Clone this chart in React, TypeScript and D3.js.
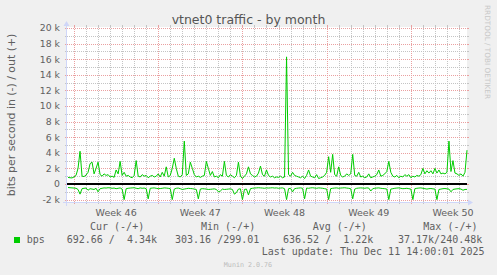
import React from 'react';
import * as d3 from 'd3';

// ---------- data ----------
const FIRST_SAMPLE = Date.UTC(2025, 10, 9, 12, 0); // 4-hour RRD samples
const STEP_HOURS = 4;

// out (+) traffic, bits per second
const outBps = [
  850, 800, 780, 900, 1100, 2000, 4200, 1000, 950, 1150,
  1500, 2600, 2800, 1300, 2000, 2800, 1200, 1000, 1300, 1100,
  1200, 900, 1000, 850, 1800, 1300, 2900, 1100, 1500, 1000,
  1100, 900, 800, 1100, 3000, 1000, 900, 1200, 1000, 1100,
  800, 1000, 1100, 900, 1000, 1300, 900, 1500, 1000, 2200,
  900, 1100, 2000, 3300, 2000, 1000, 900, 1200, 5500, 1100,
  1300, 2800, 2000, 1200, 900, 1000, 850, 1000, 1100, 2900,
  2000, 1100, 1600, 900, 1000, 800, 1200, 1000, 2900, 1100,
  900, 1200, 1000, 800, 1100, 2800, 1000, 700, 1000, 1300,
  2200, 1300, 1100, 900, 1000, 1400, 2300, 1200, 1000, 1800,
  1100, 900, 1000, 800, 900, 850, 1000, 800, 900, 16300,
  1200, 1000, 1500, 1100, 1000, 900, 800, 1000, 700, 1100,
  1800, 1000, 900, 800, 1200, 700, 800, 900, 1100, 1500,
  3500, 1500, 3800, 1200, 1000, 2200, 1100, 900, 1000, 1300,
  1100, 1300, 3800, 1100, 1000, 1500, 900, 1000, 800, 900,
  1300, 800, 900, 1000, 1200, 1800, 1000, 1100, 1300, 1600,
  2900, 1500, 1000, 900, 1100, 800, 1000, 900, 1200, 1000,
  1200, 800, 1000, 900, 1100, 1000, 1200, 2000, 1300, 1700,
  1400, 1700, 1300, 2000, 1400, 1800, 1300, 1400, 1300, 1500,
  5500, 1600, 3000, 1400, 1300, 1100, 1300, 1000, 1500, 4340,
];

// in (-) traffic, bits per second (drawn below zero)
const inBps = [
  450, 480, 500, 520, 550, 700, 1300, 600, 550, 520,
  800, 600, 650, 700, 550, 1000, 600, 550, 500, 520,
  480, 500, 550, 520, 600, 550, 500, 650, 2000, 600,
  550, 520, 500, 480, 550, 600, 500, 550, 520, 600,
  1900, 550, 520, 500, 550, 600, 580, 550, 500, 520,
  550, 600, 2000, 650, 550, 520, 600, 700, 650, 600,
  550, 580, 600, 650, 700, 1900, 650, 600, 620, 650,
  700, 680, 650, 620, 700, 1000, 900, 650, 700, 680,
  650, 620, 700, 1300, 1100, 650, 620, 2000, 700, 650,
  1400, 600, 550, 520, 500, 480, 500, 520, 550, 500,
  520, 500, 480, 520, 500, 550, 520, 500, 600, 2000,
  600, 550, 1000, 600, 550, 520, 500, 550, 1900, 520,
  550, 500, 480, 520, 550, 500, 520, 550, 600, 650,
  2000, 600, 550, 520, 500, 550, 520, 500, 480, 520,
  550, 600, 1900, 650, 550, 520, 500, 520, 550, 500,
  520, 900, 600, 550, 520, 500, 550, 580, 600, 650,
  2000, 650, 600, 550, 520, 500, 550, 600, 580, 550,
  600, 650, 2000, 600, 550, 520, 500, 550, 600, 650,
  600, 580, 620, 650, 2000, 700, 650, 600, 580, 620,
  650, 1000, 700, 650, 620, 600, 650, 800, 700, 693,
];

const yTickValues = [-2000, 0, 2000, 4000, 6000, 8000, 10000, 12000, 14000, 16000, 18000, 20000];
const yMinorValues = [-1000, 1000, 3000, 5000, 7000, 9000, 11000, 13000, 15000, 17000, 19000];
const weekStarts = [
  Date.UTC(2025, 10, 10), Date.UTC(2025, 10, 17), Date.UTC(2025, 10, 24),
  Date.UTC(2025, 11, 1), Date.UTC(2025, 11, 8),
];
const weekLabels = ['Week 46', 'Week 47', 'Week 48', 'Week 49', 'Week 50'];

const titleText = 'vtnet0 traffic - by month';
const yAxisTitle = 'bits per second in (-) / out (+)';
const seriesName = 'bps';
const legendHeaders = ['Cur (-/+)', 'Min (-/+)', 'Avg (-/+)', 'Max (-/+)'];
const legendValues = ['692.66 /  4.34k', '303.16 /299.01', '636.52 /  1.22k', '37.17k/240.48k'];
const lastUpdate = 'Last update: Thu Dec 11 14:00:01 2025';
const watermark = 'Munin 2.0.76';
const sideText = 'RRDTOOL / TOBI OETIKER';

// ---------- layout ----------
const W = 497;
const H = 275;
const X0 = 67, X1 = 467, YTOP = 27, YBOT = 202;
const DOMAIN_START = Date.UTC(2025, 10, 9, 10, 0);
const DOMAIN_END = Date.UTC(2025, 11, 12, 16, 0);
const headerX = [90, 201, 312.7, 423.3];
const valueX = [66.7, 175, 283, 398];

const sans = 'DejaVu Sans, Verdana, sans-serif';
const mono = 'DejaVu Sans Mono, monospace';
const FONT = '#606060';
const GREEN = '#00cc00';
const MINOR = '#c4c4c4';
const MAJOR = '#eaa0a0';
const AXIS = '#cfd6f8';

export default function App() {
  const x = d3.scaleUtc().domain([DOMAIN_START, DOMAIN_END]).range([X0, X1]);
  const y = d3.scaleLinear().domain([-2307.7, 20128.2]).range([YBOT, YTOP]);

  const times = outBps.map((_, i) => new Date(FIRST_SAMPLE + i * STEP_HOURS * 3600e3));
  const line = d3
    .line<number>()
    .x((_, i) => x(times[i]))
    .y((d) => y(d));

  const days = d3.utcDay.range(new Date(DOMAIN_START), new Date(DOMAIN_END));
  const mondaySet = new Set(weekStarts);
  const minorDays = days.filter((d) => !mondaySet.has(d.getTime()));

  const py = (v: number) => Math.round(y(v)) + 0.5;
  const px = (t: number | Date) => Math.round(x(t as any)) + 0.5;

  return (
    <svg
      width={W}
      height={H}
      style={{ position: 'absolute', left: 0, top: 0, display: 'block' }}
      xmlns="http://www.w3.org/2000/svg"
    >
      <rect x={0} y={0} width={W} height={H} fill="#f0f0f0" />
      <rect x={X0} y={YTOP} width={X1 - X0} height={YBOT - YTOP} fill="#ffffff" />

      {/* minor horizontal grid */}
      {yMinorValues.map((v) => (
        <g key={'hm' + v}>
          <line x1={X0} x2={X1} y1={py(v)} y2={py(v)} stroke={MINOR} strokeDasharray="1,1" />
          <line x1={X0 - 2} x2={X0} y1={py(v)} y2={py(v)} stroke={MINOR} />
          <line x1={X1} x2={X1 + 2} y1={py(v)} y2={py(v)} stroke={MINOR} />
        </g>
      ))}
      {/* minor vertical grid (days) */}
      {minorDays.map((d) => (
        <g key={'vm' + d.getTime()}>
          <line x1={px(d)} x2={px(d)} y1={YTOP} y2={YBOT} stroke={MINOR} strokeDasharray="1,1" />
          <line x1={px(d)} x2={px(d)} y1={YBOT} y2={YBOT + 2} stroke={MINOR} />
          <line x1={px(d)} x2={px(d)} y1={YTOP - 2} y2={YTOP} stroke={MINOR} />
        </g>
      ))}
      {/* major horizontal grid */}
      {yTickValues.map((v) => (
        <g key={'hM' + v}>
          <line x1={X0} x2={X1} y1={py(v)} y2={py(v)} stroke={MAJOR} strokeDasharray="1,1" />
          <line x1={X0 - 2} x2={X0} y1={py(v)} y2={py(v)} stroke={MAJOR} />
          <line x1={X1} x2={X1 + 2} y1={py(v)} y2={py(v)} stroke={MAJOR} />
        </g>
      ))}
      {/* major vertical grid (weeks) */}
      {weekStarts.map((t) => (
        <g key={'vM' + t}>
          <line x1={px(t)} x2={px(t)} y1={YTOP} y2={YBOT} stroke={MAJOR} strokeDasharray="1,1" />
          <line x1={px(t)} x2={px(t)} y1={YBOT} y2={YBOT + 2} stroke={MAJOR} />
          <line x1={px(t)} x2={px(t)} y1={YTOP - 2} y2={YTOP} stroke={MAJOR} />
        </g>
      ))}

      {/* data */}
      <path d={line(outBps) || ''} fill="none" stroke={GREEN} strokeWidth={1} />
      <path d={line(inBps.map((v) => -v)) || ''} fill="none" stroke={GREEN} strokeWidth={1} />
      <line x1={X0} x2={X1} y1={y(0)} y2={y(0)} stroke="#000" strokeWidth={2} />

      {/* axes */}
      <line x1={X0 - 0.5} x2={X0 - 0.5} y1={YBOT + 4} y2={YTOP - 4} stroke={AXIS} />
      <polygon points={`${X0 - 3.5},${YTOP - 1} ${X0 + 2.5},${YTOP - 1} ${X0 - 0.5},${YTOP - 6}`} fill={AXIS} />
      <line x1={X0 - 4} x2={X1 + 3} y1={YBOT + 0.5} y2={YBOT + 0.5} stroke={AXIS} />
      <polygon points={`${X1 + 1},${YBOT - 2.5} ${X1 + 1},${YBOT + 3.5} ${X1 + 6},${YBOT + 0.5}`} fill={AXIS} />

      {/* y tick labels */}
      {yTickValues.map((v) => (
        <text key={'yl' + v} x={60} y={y(v) + 3.5} textAnchor="end" fontFamily={sans} fontSize={9.3} fill={FONT}>
          {v === 0 ? '0' : `${v / 1000} k`}
        </text>
      ))}
      {/* week labels */}
      {weekStarts.map((t, i) => (
        <text
          key={'wl' + t}
          x={x(new Date(t + 3.5 * 86400e3))}
          y={216}
          textAnchor="middle"
          fontFamily={sans}
          fontSize={9.5}
          fill={FONT}
        >
          {weekLabels[i]}
        </text>
      ))}

      {/* title */}
      <text x={248.5} y={23.5} textAnchor="middle" fontFamily={sans} fontSize={12.5} fill="#555">
        {titleText}
      </text>
      {/* y axis title */}
      <text
        transform="translate(15,115) rotate(-90)"
        textAnchor="middle"
        fontFamily={sans}
        fontSize={10.9}
        fill={FONT}
      >
        {yAxisTitle}
      </text>
      {/* side watermark */}
      <text
        transform="translate(485,5) rotate(90)"
        textAnchor="start"
        fontFamily={sans}
        fontSize={7.3}
        fill="#c8c8c8"
      >
        {sideText}
      </text>

      {/* legend */}
      <rect x={14} y={237} width={6} height={6} fill={GREEN} />
      <text x={26.7} y={243} fontFamily={mono} fontSize={10} fill={FONT}>
        {seriesName}
      </text>
      {legendHeaders.map((h, i) => (
        <text key={'lh' + i} x={headerX[i]} y={230} fontFamily={mono} fontSize={10} fill={FONT} style={{ whiteSpace: 'pre' }}>
          {h}
        </text>
      ))}
      {legendValues.map((v, i) => (
        <text key={'lv' + i} x={valueX[i]} y={243} fontFamily={mono} fontSize={10} fill={FONT} style={{ whiteSpace: 'pre' }}>
          {v}
        </text>
      ))}
      <text x={261.7} y={254.5} fontFamily={mono} fontSize={10} fill={FONT} style={{ whiteSpace: 'pre' }}>
        {lastUpdate}
      </text>
      <text x={248} y={266.5} textAnchor="middle" fontFamily={mono} fontSize={6.7} fill="#bbbbbb">
        {watermark}
      </text>
    </svg>
  );
}
